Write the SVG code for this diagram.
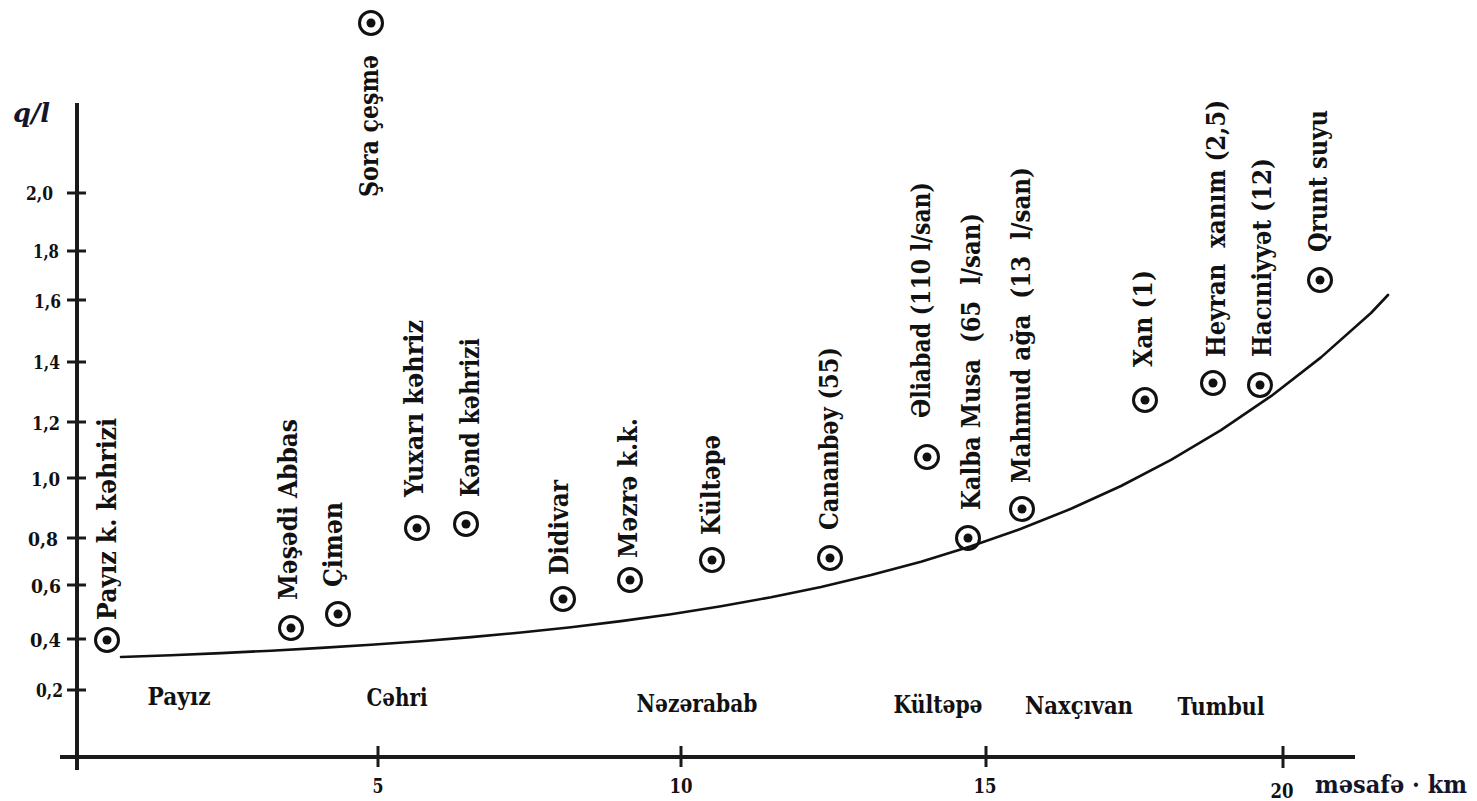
<svg xmlns="http://www.w3.org/2000/svg" width="1477" height="801" viewBox="0 0 1477 801">
<style>
text { font-family: "DejaVu Serif", "Liberation Serif", serif; fill: #111; font-weight: bold; }
.lbl { font-size: 26px; }
.reg { font-size: 25px; text-anchor: middle; }
.yt { font-size: 18px; text-anchor: end; }
.xt { font-size: 20px; text-anchor: middle; }
.ttl { fill: #15152a; }
.ax { stroke: #1a1a1a; stroke-width: 4; fill: none; }
.tk { stroke: #1a1a1a; stroke-width: 3; }
.ring { fill: none; stroke: #111; stroke-width: 3; }
.dot { fill: #111; }
.curve { fill: none; stroke: #111; stroke-width: 2.6; stroke-linejoin: round; stroke-linecap: round; }
</style>
<defs>
<g id="well"><circle r="11.5" class="ring"/><circle r="4.5" class="dot"/></g>
</defs>
<rect width="1477" height="801" fill="#fff"/>

<g id="axes">
<line class="ax" x1="77" y1="103" x2="77" y2="770"/>
<line class="ax" x1="60" y1="757" x2="1355" y2="757"/>
<g class="tk">
<line x1="67" y1="193" x2="86" y2="193"/>
<line x1="67" y1="251" x2="86" y2="251"/>
<line x1="67" y1="300" x2="86" y2="300"/>
<line x1="67" y1="362" x2="86" y2="362"/>
<line x1="67" y1="422" x2="86" y2="422"/>
<line x1="67" y1="478" x2="86" y2="478"/>
<line x1="67" y1="538" x2="86" y2="538"/>
<line x1="67" y1="585" x2="86" y2="585"/>
<line x1="67" y1="639" x2="86" y2="639"/>
<line x1="67" y1="690" x2="86" y2="690"/>
<line x1="378" y1="746" x2="378" y2="767"/>
<line x1="681" y1="746" x2="681" y2="767"/>
<line x1="986" y1="746" x2="986" y2="767"/>
<line x1="1283" y1="746" x2="1283" y2="768"/>
</g>
<text class="yt" x="53" y="200" textLength="27" lengthAdjust="spacingAndGlyphs">2,0</text>
<text class="yt" x="59" y="258" textLength="26" lengthAdjust="spacingAndGlyphs">1,8</text>
<text class="yt" x="61" y="308" textLength="27" lengthAdjust="spacingAndGlyphs">1,6</text>
<text class="yt" x="60" y="369" textLength="27" lengthAdjust="spacingAndGlyphs">1,4</text>
<text class="yt" x="60" y="430" textLength="28" lengthAdjust="spacingAndGlyphs">1,2</text>
<text class="yt" x="60" y="486" textLength="29" lengthAdjust="spacingAndGlyphs">1,0</text>
<text class="yt" x="58" y="546" textLength="30" lengthAdjust="spacingAndGlyphs">0,8</text>
<text class="yt" x="61" y="593" textLength="30" lengthAdjust="spacingAndGlyphs">0,6</text>
<text class="yt" x="61" y="647" textLength="31" lengthAdjust="spacingAndGlyphs">0,4</text>
<text class="yt" x="63" y="697" textLength="27" lengthAdjust="spacingAndGlyphs">0,2</text>
<text class="xt" x="378" y="793" textLength="11" lengthAdjust="spacingAndGlyphs">5</text>
<text class="xt" x="681" y="793" textLength="23" lengthAdjust="spacingAndGlyphs">10</text>
<text class="xt" x="985" y="793" textLength="23" lengthAdjust="spacingAndGlyphs">15</text>
<text class="xt" x="1282" y="798" textLength="23" lengthAdjust="spacingAndGlyphs">20</text>
<text class="ttl" x="13" y="122" font-size="26" font-weight="normal" font-style="italic" textLength="37" lengthAdjust="spacingAndGlyphs">q/l</text>
<text class="ttl" x="1315" y="793" font-size="24" textLength="152" lengthAdjust="spacingAndGlyphs">məsafə · km</text>
</g>

<g id="regions">
<text class="reg" x="179" y="705" textLength="63" lengthAdjust="spacingAndGlyphs">Payız</text>
<text class="reg" x="397" y="706" textLength="61" lengthAdjust="spacingAndGlyphs">Cəhri</text>
<text class="reg" x="697" y="712" textLength="121" lengthAdjust="spacingAndGlyphs">Nəzərabab</text>
<text class="reg" x="938" y="713" textLength="89" lengthAdjust="spacingAndGlyphs">Kültəpə</text>
<text class="reg" x="1079" y="714" textLength="108" lengthAdjust="spacingAndGlyphs">Naxçıvan</text>
<text class="reg" x="1221" y="715" textLength="87" lengthAdjust="spacingAndGlyphs">Tumbul</text>
</g>

<g id="connectors">
<polyline class="curve" points="121,657 171,655.2 221,653.1 271,650.7 321,647.9 371,644.8 421,641.2 471,637.1 521,632.5 571,627.2 621,621.1 671,614.2 721,606.2 771,597.2 821,586.9 871,575.1 921,561.7 971,546.3 1021,528.8 1071,508.8 1121,486 1171,459.9 1221,430.1 1271,396.2 1321,357.4 1371,313 1388,295"/>
</g>

<g id="payiz-k-kehrizi"><use href="#well" x="107" y="640"/>
<text class="lbl" transform="translate(116,620) rotate(-90)" textLength="202" lengthAdjust="spacingAndGlyphs">Payız k. kəhrizi</text></g>
<g id="meshedi-abbas"><use href="#well" x="291" y="628"/>
<text class="lbl" transform="translate(297,600) rotate(-90)" textLength="181" lengthAdjust="spacingAndGlyphs">Məşədi Abbas</text></g>
<g id="ciman"><use href="#well" x="338" y="614"/>
<text class="lbl" transform="translate(342,587) rotate(-90)" textLength="85" lengthAdjust="spacingAndGlyphs">Çimən</text></g>
<g id="sora-cesme"><use href="#well" x="371" y="23"/>
<text class="lbl" transform="translate(378,197) rotate(-90)" textLength="142" lengthAdjust="spacingAndGlyphs">Şora çeşmə</text></g>
<g id="yuxari-kehriz"><use href="#well" x="417" y="528"/>
<text class="lbl" transform="translate(423,497) rotate(-90)" textLength="177" lengthAdjust="spacingAndGlyphs">Yuxarı kəhriz</text></g>
<g id="kend-kehrizi"><use href="#well" x="466" y="524"/>
<text class="lbl" transform="translate(479,497) rotate(-90)" textLength="159" lengthAdjust="spacingAndGlyphs">Kənd kəhrizi</text></g>
<g id="didivar"><use href="#well" x="563" y="599"/>
<text class="lbl" transform="translate(568,575) rotate(-90)" textLength="95" lengthAdjust="spacingAndGlyphs">Didivar</text></g>
<g id="mezre-kk"><use href="#well" x="630" y="580"/>
<text class="lbl" transform="translate(637,558) rotate(-90)" textLength="140" lengthAdjust="spacingAndGlyphs">Məzrə k.k.</text></g>
<g id="kultepe"><use href="#well" x="712" y="560"/>
<text class="lbl" transform="translate(720,535) rotate(-90)" textLength="100" lengthAdjust="spacingAndGlyphs">Kültəpə</text></g>
<g id="cananbey"><use href="#well" x="830" y="558"/>
<text class="lbl" transform="translate(838,530) rotate(-90)" textLength="183" lengthAdjust="spacingAndGlyphs">Cananbəy (55)</text></g>
<g id="eliabad"><use href="#well" x="927" y="457"/>
<text class="lbl" transform="translate(930,418) rotate(-90)" textLength="236" lengthAdjust="spacingAndGlyphs">Əliabad (110 l/san)</text></g>
<g id="kalba-musa"><use href="#well" x="968" y="538"/>
<text class="lbl" xml:space="preserve" transform="translate(980,510) rotate(-90)" textLength="297" lengthAdjust="spacingAndGlyphs">Kalba Musa  (65  l/san)</text></g>
<g id="mahmud-aga"><use href="#well" x="1022" y="509"/>
<text class="lbl" xml:space="preserve" transform="translate(1030,483) rotate(-90)" textLength="316" lengthAdjust="spacingAndGlyphs">Mahmud ağa  (13  l/san)</text></g>
<g id="xan"><use href="#well" x="1145" y="400"/>
<text class="lbl" transform="translate(1152,367) rotate(-90)" textLength="97" lengthAdjust="spacingAndGlyphs">Xan (1)</text></g>
<g id="heyran-xanim"><use href="#well" x="1213" y="383"/>
<text class="lbl" xml:space="preserve" transform="translate(1225,357) rotate(-90)" textLength="257" lengthAdjust="spacingAndGlyphs">Heyran  xanım (2,5)</text></g>
<g id="haciniyyet"><use href="#well" x="1260" y="385"/>
<text class="lbl" transform="translate(1271,357) rotate(-90)" textLength="199" lengthAdjust="spacingAndGlyphs">Hacıniyyət (12)</text></g>
<g id="qrunt-suyu"><use href="#well" x="1320" y="280"/>
<text class="lbl" transform="translate(1327,252) rotate(-90)" textLength="142" lengthAdjust="spacingAndGlyphs">Qrunt suyu</text></g>
</svg>
